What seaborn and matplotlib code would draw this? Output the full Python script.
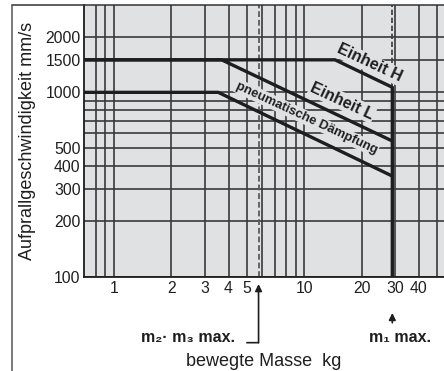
import matplotlib
matplotlib.use("Agg")
import matplotlib.pyplot as plt
from matplotlib.lines import Line2D
from matplotlib.ticker import FixedLocator, FixedFormatter, NullFormatter
import pandas as pd
import seaborn as sns

# Permissible impact speed (mm/s) over moving mass (kg)
mass_h = [0.7, 14.5, 29, 29]
speed_h = [1500, 1500, 1065, 100]
mass_l = [0.7, 3.68, 29]
speed_l = [1500, 1500, 545]
mass_p = [0.7, 3.53, 29]
speed_p = [1000, 1000, 352]
curve_names = ["Einheit H", "Einheit L", "pneumatische Dämpfung"]

# mass limits marked below the axis
m23_max = 5.75
m1_max = 29

x_major = [1, 2, 3, 4, 5, 10, 20, 30, 40]
x_labels = ["1", "2", "3", "4", "5", "10", "20", "30", "40"]
x_minor = [0.8, 0.9, 6, 7, 8, 9, 50]
y_major = [100, 200, 300, 400, 500, 1000, 1500, 2000]
y_labels = ["100", "200", "300", "400", "500", "1000", "1500", "2000"]
y_minor = [600, 700, 800, 900]

sns.set_style("white")
plt.rcParams["font.family"] = ["Liberation Sans", "DejaVu Sans"]

bg = "#e0e1e3"
ink = "#1e1e1e"
grid_c = "#3a3a3a"

frames = []
for name, ms, vs in zip(curve_names, [mass_h, mass_l, mass_p], [speed_h, speed_l, speed_p]):
    frames.append(pd.DataFrame({"mass": ms, "speed": vs, "curve": name}))
df = pd.concat(frames, ignore_index=True)

fig = plt.figure(figsize=(4.44, 3.71), dpi=100)
ax = fig.add_axes([84 / 444, 94 / 371, 360 / 444, 272.5 / 371])
ax.set_facecolor(bg)
ax.set_xscale("log")
ax.set_yscale("log")
ax.set_xlim(0.696, 54.2)
ax.set_ylim(100, 2990)

ax.xaxis.set_major_locator(FixedLocator(x_major))
ax.xaxis.set_major_formatter(FixedFormatter(x_labels))
ax.xaxis.set_minor_locator(FixedLocator(x_minor))
ax.xaxis.set_minor_formatter(NullFormatter())
ax.yaxis.set_major_locator(FixedLocator(y_major))
ax.yaxis.set_major_formatter(FixedFormatter(y_labels))
ax.yaxis.set_minor_locator(FixedLocator(y_minor))
ax.yaxis.set_minor_formatter(NullFormatter())
ax.tick_params(axis="both", which="both", length=0, labelsize=11.3, labelcolor=ink)
ax.tick_params(axis="x", pad=3)
ax.tick_params(axis="y", pad=2.4)
ax.grid(which="both", color=grid_c, lw=1.2)
ax.set_axisbelow(True)

for side in ["right", "top"]:
    ax.spines[side].set_visible(False)
for side in ["left", "bottom"]:
    ax.spines[side].set_color(ink)
    ax.spines[side].set_linewidth(1.3)

# dashed mass limits
ax.plot([m23_max, m23_max], [100, 2990], color="#5a5a5a", lw=1.3, ls=(0, (3.2, 1.6)), zorder=1.5)
ax.plot([m1_max, m1_max], [speed_h[2], 2990], color="#3a3a3a", lw=1.2, ls=(0, (3.2, 1.6)), zorder=1.5)

sns.lineplot(data=df, x="mass", y="speed", units="curve", estimator=None, sort=False,
             color=ink, lw=2.4, ax=ax, legend=False)
ax.set_xlabel("")
ax.set_ylabel("")

# curve labels
label_kw = dict(rotation=-25, rotation_mode="anchor", ha="center", va="center", color=ink,
                fontweight="bold",
                bbox=dict(boxstyle="square,pad=0.08", fc=bg, ec="none"))
ax.text(21.9, 1441, curve_names[0], fontsize=11.5, **label_kw)
ax.text(15.8, 897, curve_names[1], fontsize=11.5, **label_kw)
ax.text(10.3, 726, curve_names[2], fontsize=9.4, **label_kw)

# arrows and limit texts below the axis
xy_tr = ("data", "axes fraction")
ax.annotate("", xy=(m23_max, -0.026), xycoords=xy_tr, xytext=(m23_max, -0.241), textcoords=xy_tr,
            arrowprops=dict(arrowstyle="-|>", lw=1.2, color=ink, mutation_scale=10,
                            shrinkA=0, shrinkB=0), annotation_clip=False)
ax.annotate("", xy=(m23_max, -0.241), xycoords=xy_tr, xytext=(-8.4, 0), textcoords="offset points",
            arrowprops=dict(arrowstyle="-", lw=1.2, color=ink, shrinkA=0, shrinkB=0),
            annotation_clip=False)
ax.annotate("m₂· m₃ max.", xy=(m23_max, -0.222), xycoords=xy_tr, xytext=(-16.8, 0),
            textcoords="offset points", ha="right", va="center", fontsize=11.5,
            fontweight="bold", color=ink, annotation_clip=False)

ax.annotate("", xy=(m1_max, -0.132), xycoords=xy_tr, xytext=(m1_max, -0.168), textcoords=xy_tr,
            arrowprops=dict(arrowstyle="-|>", lw=1.2, color=ink, mutation_scale=10,
                            shrinkA=0, shrinkB=0), annotation_clip=False)
ax.annotate("m₁ max.", xy=(m1_max, -0.222), xycoords=xy_tr, xytext=(5.8, 0),
            textcoords="offset points", ha="center", va="center", fontsize=11.5,
            fontweight="bold", color=ink, annotation_clip=False)

# axis titles
fig.text(27 / 444, 1 - 141 / 371, "Aufprallgeschwindigkeit mm/s", rotation=90,
         ha="center", va="center", fontsize=13, color=ink)
fig.text(264 / 444, 1 - 361 / 371, "bewegte Masse  kg", ha="center", va="center",
         fontsize=13, color=ink)

# outer frame
fig.add_artist(Line2D([12 / 444, 1.0], [1 - 4.5 / 371, 1 - 4.5 / 371], color="#333333", lw=1.1))
fig.add_artist(Line2D([12 / 444, 12 / 444], [0, 1 - 4.5 / 371], color="#555555", lw=1.1))

fig.savefig("out.png", dpi=100, facecolor="white")
